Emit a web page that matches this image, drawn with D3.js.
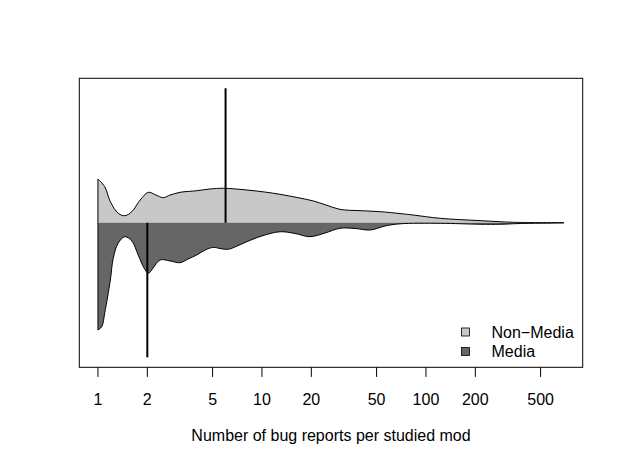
<!DOCTYPE html>
<html>
<head>
<meta charset="utf-8">
<script src="https://cdn.jsdelivr.net/npm/d3@7"></script>
<style>
  body { margin: 0; background: #fff; }
  text { font-family: "Liberation Sans", Arial, sans-serif; }
</style>
</head>
<body>
<div id="chart"></div>
<script>
// groups and legend
const groups = ["Non\u2212Media", "Media"];
const groupColors = ["#c8c8c8", "#666666"];

// Non-Media density (upper half of the bean)
const nonMediaX = [1, 1.1, 1.19, 1.33, 1.46, 1.61, 1.81, 2.03, 2.26, 2.5, 2.75, 3.17, 4.0, 4.83, 5.82,
                   8.08, 10.4, 12.9, 16.4, 20.6, 24.6, 29.9, 39.6, 52.5, 69.5, 83.4, 122, 214, 340, 498, 695];
const nonMediaDensity = [0.303, 0.25, 0.146, 0.066, 0.049, 0.077, 0.158, 0.211, 0.192, 0.174, 0.192, 0.211, 0.222, 0.234, 0.239,
                         0.227, 0.213, 0.197, 0.175, 0.151, 0.123, 0.093, 0.084, 0.077, 0.064, 0.054, 0.031, 0.015, 0.0035, 0.0014, 0.001];

// Media density (lower half of the bean)
const mediaX = [1, 1.055, 1.1, 1.19, 1.24, 1.33, 1.46, 1.61, 1.76, 1.91, 2.03, 2.17, 2.39, 2.75, 3.17, 3.54, 4.0, 4.51, 5.06,
                5.55, 6.24, 7.05, 8.08, 10.0, 12.9, 15.9, 19.6, 24.2, 29.9, 36.9, 45.6, 56.3, 69.5, 122, 214, 283, 375, 695];
const mediaDensity = [0.742, 0.719, 0.624, 0.396, 0.244, 0.140, 0.096, 0.126, 0.223, 0.313, 0.349, 0.313, 0.257, 0.264, 0.276, 0.251, 0.223, 0.188, 0.170,
                      0.178, 0.183, 0.161, 0.131, 0.091, 0.062, 0.074, 0.096, 0.071, 0.038, 0.039, 0.050, 0.022, 0.007, 0.0035, 0.010, 0.010, 0.005, 0.001];

// bean lines (medians)
const medians = [6, 2];

const xTicks = [1, 2, 5, 10, 20, 50, 100, 200, 500];
const xLabel = "Number of bug reports per studied mod";

//==========================================================
let width_svg = 623;
let height_svg = 467;
let margin = { top: 78.3, right: 40.3, bottom: 99.7, left: 79.3 };
let width = width_svg - margin.left - margin.right;
let height = height_svg - margin.top - margin.bottom;

let svg = d3.select("#chart").append("svg")
    .attr("width", width_svg)
    .attr("height", height_svg);

let chart = svg.append("g")
    .attr("transform", `translate(${margin.left},${margin.top})`);

// log x scale with R style 4% padding
let lo = 1, hi = d3.max(nonMediaX.concat(mediaX));
let pad = 0.04 * Math.log10(hi / lo);
let x = d3.scaleLog()
    .domain([lo / Math.pow(10, pad), hi * Math.pow(10, pad)])
    .range([0, width]);

let y = d3.scaleLinear().domain([-1, 1]).range([height, 0]);

//==========================================================
// beans
let beans = [
    { xs: nonMediaX, ds: nonMediaDensity, sign: 1 },
    { xs: mediaX, ds: mediaDensity, sign: -1 }
];

let smooth = d3.curveCatmullRom.alpha(0.5);

beans.forEach((b, i) => {
    let pts = b.xs.map((v, k) => ({ v: v, d: b.ds[k] * b.sign }));

    let area = d3.area()
        .x(p => x(p.v))
        .y0(y(0))
        .y1(p => y(p.d))
        .curve(smooth);

    chart.append("path")
        .datum(pts)
        .attr("d", area)
        .attr("fill", groupColors[i])
        .attr("stroke", "none");

    // outline: left edge + density curve
    let line = d3.line()
        .x(p => x(p.v))
        .y(p => y(p.d))
        .curve(smooth);
    let edge = `M${x(pts[0].v)},${y(0)}L` + line(pts).slice(1);
    chart.append("path")
        .attr("d", edge)
        .attr("fill", "none")
        .attr("stroke", "#000")
        .attr("stroke-width", 1);
});

// median lines
let beanLine = 0.931;
medians.forEach((m, i) => {
    chart.append("line")
        .attr("x1", x(m)).attr("x2", x(m))
        .attr("y1", y(0))
        .attr("y2", y(i === 0 ? beanLine : -beanLine))
        .attr("stroke", "#000")
        .attr("stroke-width", 2);
});

//==========================================================
// box
chart.append("rect")
    .attr("x", 0).attr("y", 0)
    .attr("width", width).attr("height", height)
    .attr("fill", "none")
    .attr("stroke", "#000")
    .attr("stroke-width", 1);

// x axis
let axis = chart.append("g").attr("transform", `translate(0,${height})`);
axis.selectAll("line.tick")
    .data(xTicks).enter().append("line")
    .attr("x1", t => x(t)).attr("x2", t => x(t))
    .attr("y1", 0).attr("y2", 9.6)
    .attr("stroke", "#000");
axis.selectAll("text")
    .data(xTicks).enter().append("text")
    .attr("x", t => x(t))
    .attr("y", 37.4)
    .attr("text-anchor", "middle")
    .attr("font-size", 16)
    .text(t => t);

svg.append("text")
    .attr("x", margin.left + width / 2)
    .attr("y", 440.5)
    .attr("text-anchor", "middle")
    .attr("font-size", 16)
    .text(xLabel);

//==========================================================
// legend
let legend = svg.append("g");
groups.forEach((g, i) => {
    legend.append("rect")
        .attr("x", 461.5).attr("y", 328 + i * 19.5)
        .attr("width", 8).attr("height", 8)
        .attr("fill", groupColors[i])
        .attr("stroke", "#000")
        .attr("stroke-width", 0.8);
    legend.append("text")
        .attr("x", 491.5).attr("y", 337.5 + i * 19.5)
        .attr("font-size", 16)
        .text(g);
});
</script>
</body>
</html>
